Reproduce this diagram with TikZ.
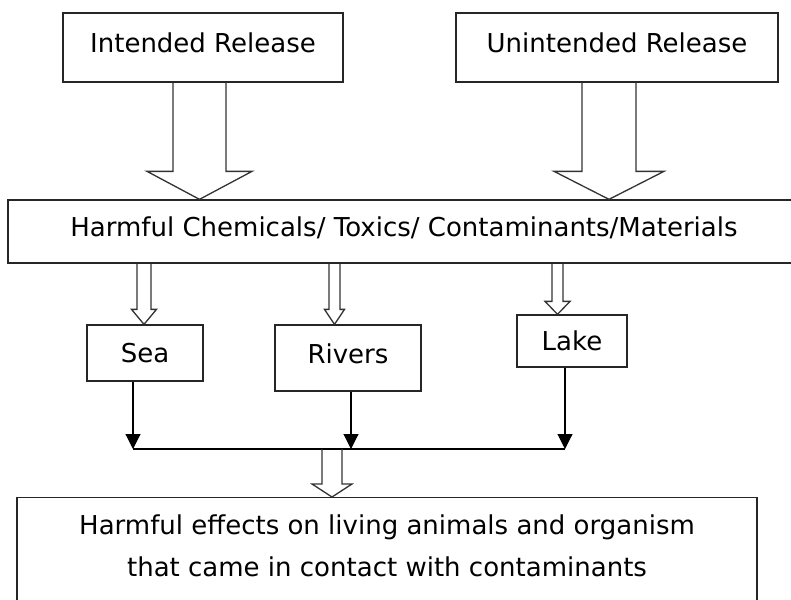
\documentclass[tikz,border=0pt]{standalone}
\usepackage{fontspec}
\setmainfont{DejaVu Sans}
\usetikzlibrary{arrows.meta,calc}
\tikzset{boxy/.style={draw=black!85,line width=1.3pt,rectangle,inner sep=0pt},
    hollow/.style={draw=black!80,line width=1.3pt,line join=miter},
    feeder/.style={draw=black,line width=1.1pt,-{Triangle[width=15pt,length=15pt]}},
    bigfont/.style={font=\fontsize{26}{42}\selectfont},
    raised/.style={text depth=9pt}}
% start, target, shaft half width, head half width, head length
\newcommand{\hollowarrow}[5]{%
  \draw [hollow] let \p1=(#1), \p2=(#2) in
    (\x1-#3,\y1) -- (\x1-#3,\y2+#5) -- (\x1-#4,\y2+#5) -- (\x1,\y2)
    -- (\x1+#4,\y2+#5) -- (\x1+#3,\y2+#5) -- (\x1+#3,\y1);}

\begin{document}
\begin{tikzpicture}[x=1pt,y=-1pt]
\useasboundingbox (0,0) rectangle (791,599);

\node (intended) [boxy,bigfont,raised,minimum width=280pt,minimum height=69pt] at (203,47.5) {Intended Release};
\node (unintended) [boxy,bigfont,raised,minimum width=322pt,minimum height=69pt] at (617,47.5) {Unintended Release};
\node (chemicals) [boxy,bigfont,raised,minimum width=792pt,minimum height=63pt] at (404,231.5) {Harmful Chemicals/ Toxics/ Contaminants/Materials};

\node (sea) [boxy,bigfont,minimum width=116pt,minimum height=56pt] at (145,353) {Sea};
\node (rivers) [boxy,bigfont,text depth=8pt,minimum width=146pt,minimum height=66pt] at (348,358) {Rivers};
\node (lake) [boxy,bigfont,minimum width=110pt,minimum height=52pt] at (572,341) {Lake};

\node (effects) [boxy,minimum width=740pt,minimum height=130pt,anchor=north] at (387,497) {};
\node (effects text) [bigfont,align=center] at (387,546) {Harmful effects on living animals and organism\\that came in contact with contaminants};

\coordinate (sea end) at (133,449);
\coordinate (rivers end) at (351,449);
\coordinate (lake end) at (565,449);
\coordinate (effects start) at (332,449);

% big release arrows
\hollowarrow{[xshift=-3.5pt]intended.south}{chemicals.north}{26.5pt}{52.5pt}{28pt}
\hollowarrow{[xshift=-8pt]unintended.south}{chemicals.north}{27pt}{55pt}{28pt}

% into the water bodies
\hollowarrow{[xshift=-1pt]sea.north |- chemicals.south}{sea.north}{7pt}{12.5pt}{15pt}
\hollowarrow{[xshift=-13.5pt]rivers.north |- chemicals.south}{rivers.north}{5.5pt}{10pt}{15pt}
\hollowarrow{[xshift=-14.5pt]lake.north |- chemicals.south}{lake.north}{5.5pt}{12.5pt}{13pt}

\draw [feeder] (sea.south -| sea end) -- (sea end);
\draw [feeder] (rivers.south -| rivers end) -- (rivers end);
\draw [feeder] (lake.south -| lake end) -- (lake end);
\draw [line width=1.1pt] (sea end) -- (lake end);

\hollowarrow{effects start}{effects.north}{10pt}{20pt}{13pt}

\end{tikzpicture}
\end{document}
